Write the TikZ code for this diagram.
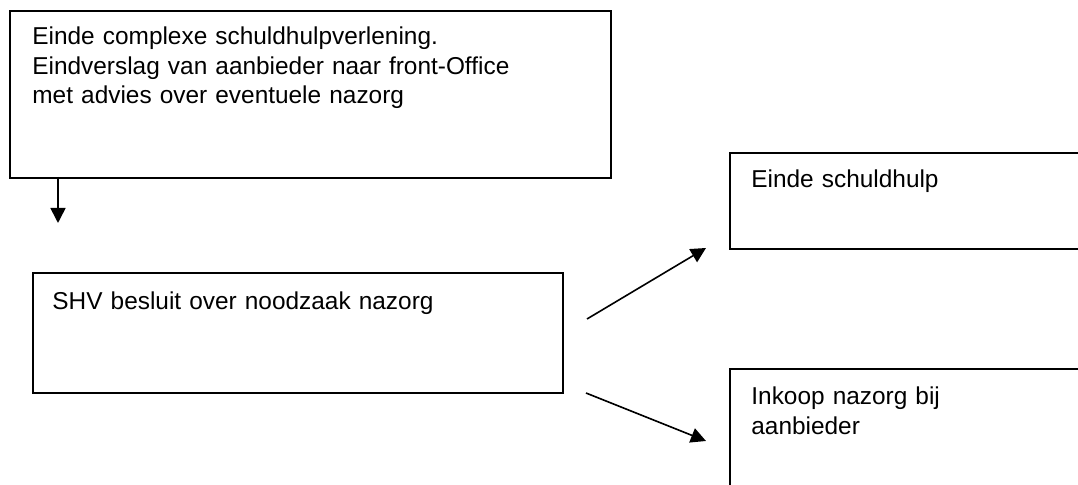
\documentclass[tikz,border=0pt]{standalone}
\usepackage{fontspec}
\setmainfont{Liberation Sans}
\usetikzlibrary{arrows.meta}
\begin{document}
\begin{tikzpicture}[x=0.5pt,y=-0.5pt,
  box/.style={draw=black, line width=1pt, rectangle, inner sep=0pt, anchor=north west},
  txt/.style={inner sep=0pt, anchor=base west, align=left, text width=290pt,
    font=\fontsize{12.2}{14.75}\selectfont},
  conn/.style={line width=0.8pt, -{Triangle[length=7.5pt,width=7.5pt]}}]
\useasboundingbox (0,0) rectangle (1078,485);
\clip (0,0) rectangle (1078,485);
% boxes
\node[box, minimum width=300.5pt, minimum height=83.5pt] (b1) at (9,10) {};
\node[box, minimum width=265pt, minimum height=60pt] (b2) at (32,272) {};
\node[box, minimum width=200pt, minimum height=48pt] (b3) at (729,152) {};
\node[box, minimum width=200pt, minimum height=70pt] (b4) at (729,368) {};
% texts
\node[txt] (t1) at (32,45) {Einde complexe schuldhulpverlening.\\Eindverslag van aanbieder naar front-Office\\met advies over eventuele nazorg};
\node[txt] (t2) at (52,310) {SHV besluit over noodzaak nazorg};
\node[txt] (t3) at (751,188) {Einde schuldhulp};
\node[txt] (t4) at (751,405) {Inkoop nazorg bij\\aanbieder};
% connector end points
\coordinate (a0s) at (58,177);
\coordinate (a0e) at (58,223);
\coordinate (a1s) at (587,319);
\coordinate (a1e) at (706,248);
\coordinate (a2s) at (586,393);
\coordinate (a2e) at (706,441);
\draw[conn] (a0s) -- (a0e);
\draw[conn] (a1s) -- (a1e);
\draw[conn] (a2s) -- (a2e);
\end{tikzpicture}
\end{document}
